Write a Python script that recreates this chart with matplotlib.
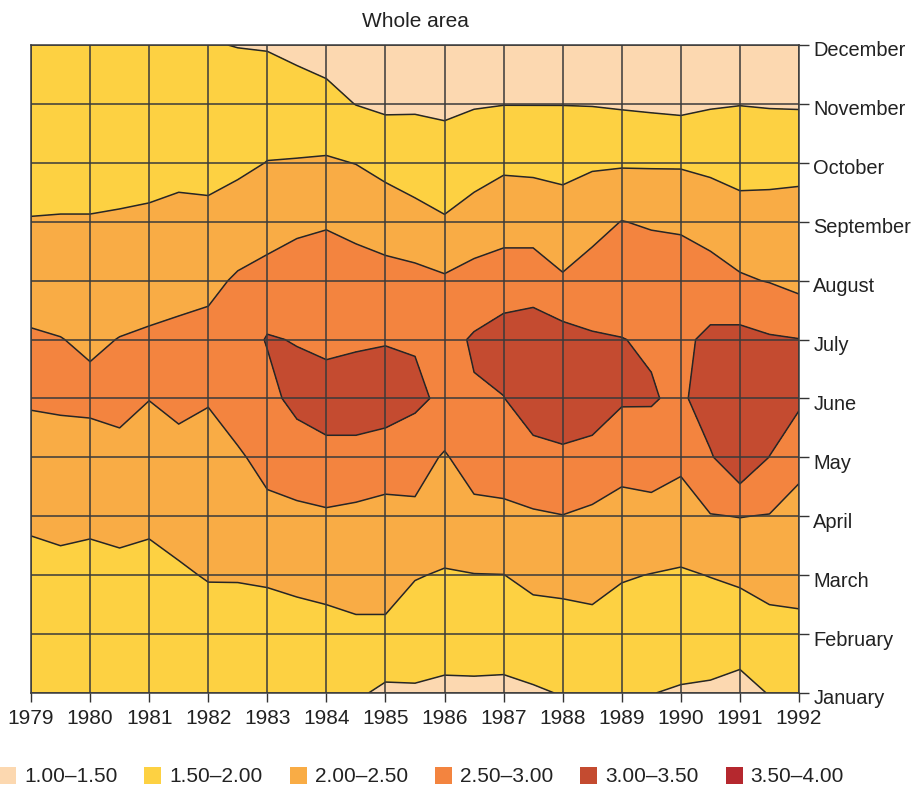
import numpy as np
import matplotlib
matplotlib.use("Agg")
import matplotlib.pyplot as plt
from matplotlib.patches import Rectangle
from matplotlib.transforms import ScaledTranslation

plt.rcParams['font.family'] = ['Liberation Sans', 'DejaVu Sans']

years = list(range(1979, 1993))
months = ['January', 'February', 'March', 'April', 'May', 'June', 'July',
          'August', 'September', 'October', 'November', 'December']
levels = [1.0, 1.5, 2.0, 2.5, 3.0, 3.5, 4.0]
level_labels = ['1.00–1.50', '1.50–2.00', '2.00–2.50', '2.50–3.00', '3.00–3.50', '3.50–4.00']
colors = ['#fcd8b0', '#fdd142', '#f9ac45', '#f3843f', '#c44b30', '#b5282e']

# sample times, every half year
half_years = [1979 + 0.5 * i for i in range(27)]

# one row per half year, Jan..Dec
ratio = [
    [1.75, 1.82, 1.90, 2.05, 2.30, 2.55, 2.55, 2.30, 2.02, 1.80, 1.70, 1.62],  # 1979.0
    [1.75, 1.85, 1.93, 2.07, 2.30, 2.58, 2.51, 2.30, 2.03, 1.80, 1.70, 1.62],
    [1.75, 1.85, 1.92, 2.05, 2.30, 2.60, 2.44, 2.25, 2.03, 1.80, 1.70, 1.63],  # 1980.0
    [1.75, 1.86, 1.94, 2.07, 2.35, 2.65, 2.51, 2.30, 2.05, 1.82, 1.70, 1.63],
    [1.76, 1.86, 1.92, 2.05, 2.25, 2.51, 2.56, 2.30, 2.08, 1.83, 1.72, 1.64],  # 1981.0
    [1.75, 1.87, 1.96, 2.12, 2.37, 2.60, 2.60, 2.35, 2.12, 1.88, 1.74, 1.65],
    [1.72, 1.85, 2.02, 2.15, 2.33, 2.53, 2.63, 2.40, 2.12, 1.85, 1.65, 1.52],  # 1982.0
    [1.70, 1.86, 2.02, 2.20, 2.45, 2.70, 2.75, 2.55, 2.25, 1.90, 1.70, 1.49],
    [1.68, 1.85, 2.04, 2.40, 2.62, 2.85, 3.03, 2.70, 2.25, 2.01, 1.75, 1.47],  # 1983.0
    [1.65, 1.83, 2.10, 2.42, 2.72, 3.15, 2.98, 2.75, 2.40, 2.03, 1.65, 1.42],
    [1.62, 1.85, 2.15, 2.44, 2.85, 3.25, 2.87, 2.75, 2.46, 2.05, 1.65, 1.30],  # 1984.0
    [1.56, 1.90, 2.20, 2.40, 2.82, 3.30, 2.92, 2.70, 2.38, 1.99, 1.49, 1.30],
    [1.42, 1.85, 2.30, 2.35, 2.75, 3.25, 2.97, 2.65, 2.30, 1.85, 1.42, 1.30],  # 1985.0
    [1.44, 1.80, 2.02, 2.40, 2.70, 3.10, 2.96, 2.65, 2.15, 1.78, 1.44, 1.30],
    [1.40, 1.73, 1.97, 2.22, 2.45, 2.90, 2.85, 2.56, 2.05, 1.65, 1.44, 1.30],  # 1986.0
    [1.42, 1.70, 1.99, 2.35, 2.75, 2.96, 3.05, 2.68, 2.20, 1.80, 1.47, 1.30],
    [1.40, 1.72, 1.995, 2.38, 2.78, 2.99, 3.20, 2.75, 2.30, 1.92, 1.49, 1.30],  # 1987.0
    [1.45, 1.80, 2.10, 2.45, 2.85, 3.25, 3.30, 2.75, 2.30, 1.90, 1.49, 1.30],
    [1.52, 1.82, 2.12, 2.49, 2.90, 3.35, 3.20, 2.55, 2.20, 1.88, 1.49, 1.30],  # 1988.0
    [1.60, 1.85, 2.15, 2.42, 2.82, 3.30, 3.05, 2.70, 2.35, 1.94, 1.48, 1.30],
    [1.58, 1.80, 2.03, 2.30, 2.70, 3.05, 3.01, 2.75, 2.51, 1.95, 1.45, 1.30],  # 1989.0
    [1.51, 1.75, 1.99, 2.33, 2.75, 3.04, 2.95, 2.80, 2.45, 1.95, 1.42, 1.30],
    [1.45, 1.80, 1.96, 2.25, 2.62, 2.90, 2.90, 2.78, 2.42, 1.95, 1.39, 1.30],  # 1990.0
    [1.43, 1.75, 2.01, 2.48, 2.95, 3.30, 3.10, 2.70, 2.30, 1.90, 1.46, 1.30],
    [1.46, 1.56, 2.12, 2.51, 3.40, 3.45, 3.15, 2.55, 2.20, 1.82, 1.49, 1.30],  # 1991.0
    [1.505, 1.80, 2.20, 2.48, 2.99, 3.40, 3.05, 2.48, 2.18, 1.85, 1.47, 1.30],
    [1.60, 1.85, 2.20, 2.35, 2.62, 3.10, 3.01, 2.35, 2.18, 1.88, 1.46, 1.30],  # 1992.0
]

W, H = 915, 786
fig = plt.figure(figsize=(W / 100, H / 100), dpi=100)
ax = fig.add_axes([31 / W, 1 - 693 / H, 768 / W, 648 / H])

month_pos = np.arange(1, 13)
Z = np.array(ratio).T

ax.contourf(half_years, month_pos, Z, levels=levels, colors=colors, zorder=1)
ax.contour(half_years, month_pos, Z, levels=levels[1:-1], colors='#262626',
           linewidths=1.1, zorder=2)

ax.set_xlim(1979, 1992)
ax.set_ylim(1, 12)
ax.set_xticks(years)
ax.set_yticks(month_pos)
ax.set_yticklabels(months)
ax.yaxis.tick_right()
ax.tick_params(axis='both', color='#333333', labelcolor='#222222', width=1)
ax.tick_params(axis='x', labelsize=15, length=6.3, pad=5)
ax.tick_params(axis='y', labelsize=14.4, length=7.2, pad=3.2)
# month labels sit a little below their tick in the original
shift = ScaledTranslation(0, -4 / 100, fig.dpi_scale_trans)
for lab in ax.get_yticklabels():
    lab.set_transform(lab.get_transform() + shift)

ax.grid(True, color='#3a3a3a', lw=1.1, zorder=3)
ax.set_axisbelow(False)
for s in ax.spines.values():
    s.set_color('#3a3a3a')
    s.set_linewidth(1.1)

ax.set_title('Whole area', fontsize=15, color='#222222', pad=13)

# legend row along the bottom
for i, (c, lab) in enumerate(zip(colors, level_labels)):
    x0 = -1 + i * 145.3
    fig.add_artist(Rectangle((x0 / W, 1 - 784 / H), 17 / W, 17 / H,
                             transform=fig.transFigure, facecolor=c, edgecolor='none'))
    fig.text((x0 + 25) / W, 1 - 776 / H, lab, fontsize=15, color='#222222',
             ha='left', va='center')

fig.savefig('out.png', dpi=100)
